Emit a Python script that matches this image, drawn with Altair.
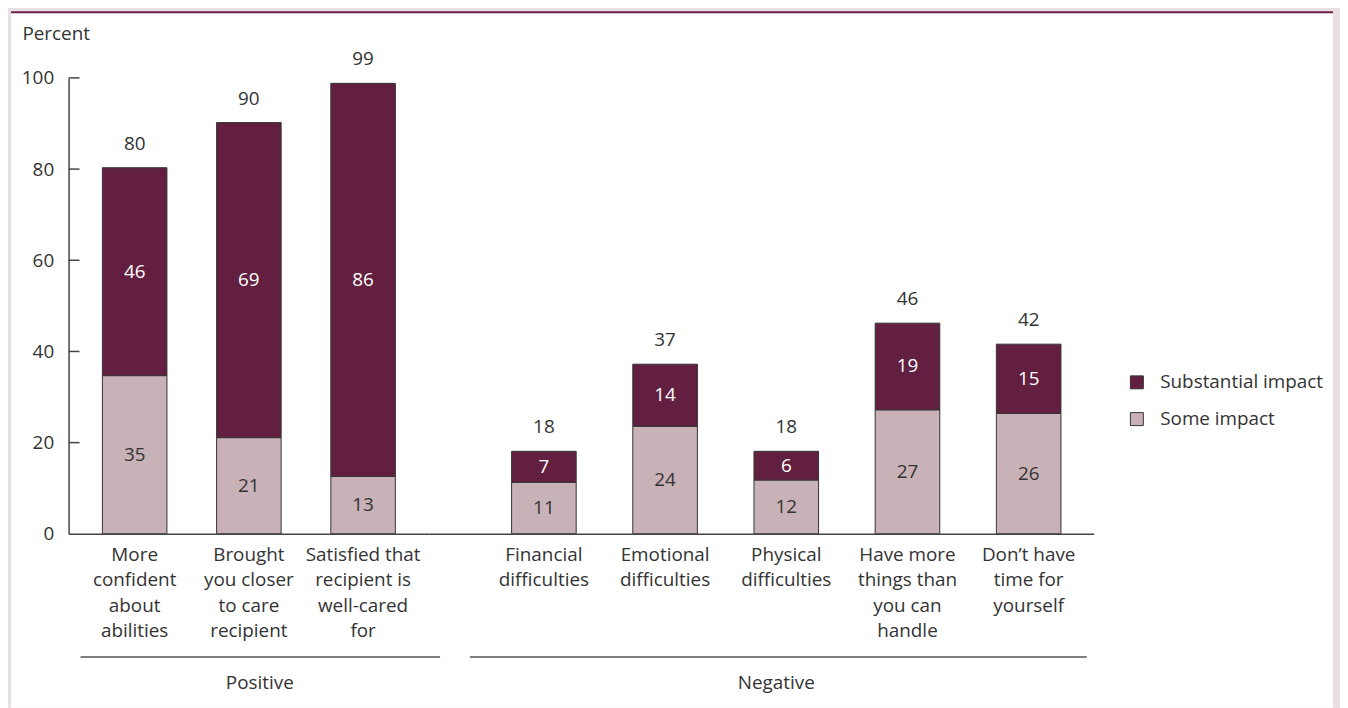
import altair as alt
import pandas as pd

# ---- data ----
series = ["Substantial impact", "Some impact"]
series_colors = ["#621f3f", "#c8b1b7"]
text_colors = ["#ffffff", "#333333"]

pos_categories = ["More|confident|about|abilities",
                  "Brought|you closer|to care|recipient",
                  "Satisfied that|recipient is|well-cared|for"]
pos_some = [34.7, 21.1, 12.6]
pos_substantial = [45.6, 69.1, 86.2]

neg_categories = ["Financial|difficulties",
                  "Emotional|difficulties",
                  "Physical|difficulties",
                  "Have more|things than|you can|handle",
                  "Don\u2019t have|time for|yourself"]
neg_some = [11.3, 23.6, 11.8, 27.2, 26.4]
neg_substantial = [6.8, 13.6, 6.3, 19.0, 15.2]

group_titles = ["Positive", "Negative"]
y_ticks = [0, 20, 40, 60, 80, 100]
y_axis_title = "Percent"

FONT = "Open Sans"
TXT = "#333333"
FS = 19


def make_df(cats, some, subst):
    rows = []
    for i, c in enumerate(cats):
        rows.append({"cat": c, "series": series[1], "value": some[i], "ord": 0, "tcolor": text_colors[1]})
        rows.append({"cat": c, "series": series[0], "value": subst[i], "ord": 1, "tcolor": text_colors[0]})
    return pd.DataFrame(rows)


def panel(df, cats, width, pi, po, align, title, title_x, br_x, br_x2, show_y):
    xenc = alt.X(
        "cat:N", sort=cats,
        scale=alt.Scale(paddingInner=pi, paddingOuter=po, align=align),
        axis=alt.Axis(title=title, labelExpr="split(datum.label, '|')", ticks=False,
                      labelAngle=0, labelPadding=12, labelLineHeight=25.5, labelLimit=300,
                      titleX=title_x, titleY=150, titleBaseline="middle", titleAlign="center",
                      domainColor="#444444", domainWidth=1.5, zindex=1),
    )
    yscale = alt.Scale(domain=[0, 100], nice=False)
    if show_y:
        yaxis = alt.Axis(title=y_axis_title, values=y_ticks, ticks=False, labelPadding=15,
                         grid=False, domainColor="#444444", domainWidth=1.5,
                         titleAngle=0, titleX=-47, titleY=-45, titleAlign="left",
                         titleBaseline="middle", zindex=1)
    else:
        yaxis = None

    legend = alt.Legend(title=None, orient="none", legendX=1066, legendY=297,
                        symbolType="square", symbolSize=169, symbolStrokeColor="#333333",
                        symbolStrokeWidth=1, labelOffset=14, rowPadding=17, labelLimit=300)

    base = alt.Chart(df)
    bars = base.mark_bar(stroke="#333333", strokeWidth=1).encode(
        x=xenc,
        y=alt.Y("value:Q", stack="zero", scale=yscale, axis=yaxis),
        color=alt.Color("series:N", scale=alt.Scale(domain=series, range=series_colors), legend=legend),
        order=alt.Order("ord:Q"),
    )
    seg = base.transform_stack(
        stack="value", as_=["y0", "y1"], groupby=["cat"], sort=[alt.SortField("ord")]
    ).transform_calculate(mid="(datum.y0 + datum.y1) / 2").mark_text(
        fontSize=FS, font=FONT
    ).encode(
        x=xenc,
        y=alt.Y("mid:Q", scale=yscale, axis=yaxis),
        text=alt.Text("value:Q", format=".0f"),
        color=alt.Color("tcolor:N", scale=None),
    )
    tot = base.transform_aggregate(total="sum(value)", groupby=["cat"]).mark_text(
        fontSize=FS, font=FONT, baseline="bottom", dy=-14, color=TXT
    ).encode(
        x=xenc,
        y=alt.Y("total:Q", scale=yscale, axis=yaxis),
        text=alt.Text("total:Q", format=".0f"),
    )
    bracket = alt.Chart(pd.DataFrame({"k": [0]})).mark_rule(color="#555555", strokeWidth=1.5).encode(
        x=alt.value(br_x), x2=alt.value(br_x2), y=alt.value(583)
    )
    layers = []
    if show_y:
        one = pd.DataFrame({"k": [0]})
        white = alt.Chart(one).mark_rect(fill="white").encode(
            x=alt.value(-58), x2=alt.value(1273), y=alt.value(-67), y2=alt.value(634)
        )
        topline = alt.Chart(one).mark_rule(color="#6b1f42", strokeWidth=2).encode(
            x=alt.value(-58), x2=alt.value(1273), y=alt.value(-66)
        )
        ticks = alt.Chart(pd.DataFrame({"t": y_ticks[1:]})).mark_rule(color="#444444", strokeWidth=1.5).encode(
            y=alt.Y("t:Q", scale=yscale, axis=yaxis), x=alt.value(0), x2=alt.value(11)
        )
        layers = [white, topline, ticks]
    layers += [bars, seg, tot, bracket]
    return alt.layer(*layers).properties(width=width, height=459)


pos_df = make_df(pos_categories, pos_some, pos_substantial)
neg_df = make_df(neg_categories, neg_some, neg_substantial)

p1 = panel(pos_df, pos_categories, 363, 0.435, 0.296, 0.5, group_titles[0], 192, 12, 374, True)
p2 = panel(neg_df, neg_categories, 669, 0.467, 0.475, 0.716, group_titles[1], 349, 41, 662, False)

chart = alt.hconcat(p1, p2, spacing=0, bounds="flush").resolve_scale(
    x="independent", y="independent", color="shared"
).configure(
    background="#e8dfe2",
    padding={"left": 2, "top": 1, "right": 6, "bottom": 0},
    font=FONT,
).configure_view(
    stroke=None
).configure_axis(
    labelFont=FONT, titleFont=FONT, labelFontSize=FS, titleFontSize=FS,
    labelColor=TXT, titleColor=TXT, titleFontWeight="normal",
).configure_legend(
    labelFont=FONT, labelFontSize=FS, labelColor=TXT,
)

chart.save("out.html", embed_options={"renderer": "svg", "actions": False})
